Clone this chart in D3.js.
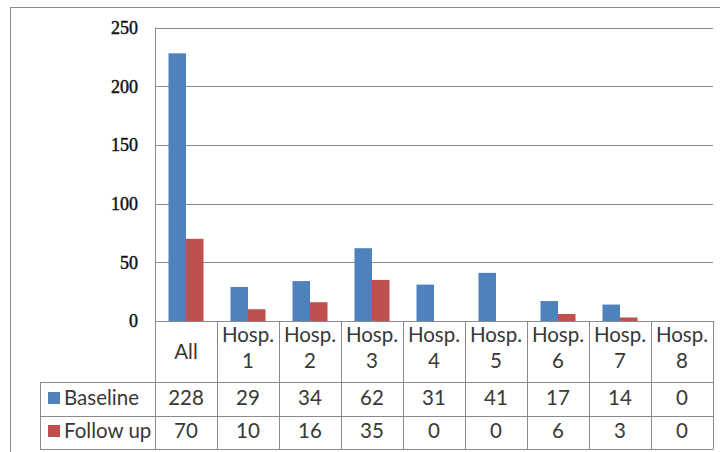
<!DOCTYPE html>
<html>
<head>
<meta charset="utf-8">
<script src="https://cdn.jsdelivr.net/npm/d3@7"></script>
<style>
  body { margin: 0; background: #fff; }
  svg { display: block; }
</style>
</head>
<body>
<div id="chart"></div>
<script>
// data
var categories = ["All", "Hosp. 1", "Hosp. 2", "Hosp. 3", "Hosp. 4", "Hosp. 5", "Hosp. 6", "Hosp. 7", "Hosp. 8"];
var seriesNames = ["Baseline", "Follow up"];
var baseline = [228, 29, 34, 62, 31, 41, 17, 14, 0];
var followUp = [70, 10, 16, 35, 0, 0, 6, 3, 0];
var yTicks = [0, 50, 100, 150, 200, 250];
var colors = ["#4f81bd", "#c0504d"];

var W = 720, H = 452;
// plot area
var plotLeft = 155, plotRight = 713, plotTop = 27.5, plotBottom = 321;
// table rows
var catRowBottom = 382, row1Bottom = 416, row2Bottom = 449, legendLeft = 40;

var rows = [baseline, followUp];
var data = categories.map(function(c, i) {
  return { cat: c, values: seriesNames.map(function(s, j) { return { key: s, value: rows[j][i] }; }) };
});

var svg = d3.select("#chart").append("svg")
  .attr("width", W)
  .attr("height", H);

// outer chart border
svg.append("rect")
  .attr("x", 10.5).attr("y", 7.5)
  .attr("width", 760).attr("height", 500)
  .attr("fill", "none")
  .attr("stroke", "#8e8e8e")
  .attr("stroke-width", 1);

var x = d3.scaleBand()
  .domain(categories)
  .range([plotLeft, plotRight])
  .paddingInner(0)
  .paddingOuter(0);

var xInner = d3.scaleBand()
  .domain(seriesNames)
  .range([0, x.bandwidth()])
  .paddingInner(0)
  .paddingOuter(0.77);

var y = d3.scaleLinear()
  .domain([0, 250])
  .range([plotBottom, plotTop]);

// gridlines
svg.append("g")
  .selectAll("line")
  .data(yTicks.filter(function(d) { return d > 0; }))
  .enter()
  .append("line")
    .attr("x1", plotLeft).attr("x2", plotRight)
    .attr("y1", function(d) { return Math.round(y(d)) + 0.5; })
    .attr("y2", function(d) { return Math.round(y(d)) + 0.5; })
    .attr("stroke", "#8a8a8a");

// y axis labels
svg.append("g")
  .selectAll("text")
  .data(yTicks)
  .enter()
  .append("text")
    .attr("x", 138)
    .attr("y", function(d) { return y(d); })
    .attr("dy", "0.35em")
    .attr("text-anchor", "end")
    .style("font-family", "'Liberation Serif', serif")
    .style("font-size", "18px")
    .style("fill", "#111")
    .style("stroke", "#111")
    .style("stroke-width", 0.45)
    .text(function(d) { return d; });

// bars
svg.append("g")
  .selectAll("g")
  .data(data)
  .enter()
  .append("g")
    .attr("transform", function(d) { return "translate(" + x(d.cat) + ",0)"; })
  .selectAll("rect")
  .data(function(d) { return d.values; })
  .enter()
  .append("rect")
    .attr("x", function(d) { return xInner(d.key); })
    .attr("y", function(d) { return y(d.value); })
    .attr("width", xInner.bandwidth())
    .attr("height", function(d) { return plotBottom - y(d.value); })
    .attr("fill", function(d, i) { return colors[i]; });

// data table lines
var lineColor = "#8a8a8a";
var grid = svg.append("g").attr("stroke", lineColor).attr("stroke-width", 1);
var yb = Math.round(plotBottom) + 0.5;
grid.append("line").attr("x1", plotLeft).attr("x2", plotRight).attr("y1", yb).attr("y2", yb);
[catRowBottom, row1Bottom, row2Bottom].forEach(function(r) {
  grid.append("line")
    .attr("x1", legendLeft).attr("x2", plotRight)
    .attr("y1", r + 0.5).attr("y2", r + 0.5);
});
// value axis line
grid.append("line")
  .attr("x1", plotLeft + 0.5).attr("x2", plotLeft + 0.5)
  .attr("y1", plotTop).attr("y2", row2Bottom + 0.5);
grid.append("line")
  .attr("x1", legendLeft + 0.5).attr("x2", legendLeft + 0.5)
  .attr("y1", catRowBottom).attr("y2", row2Bottom + 0.5);
grid.selectAll(".sep")
  .data(categories.slice(1).concat(["__end"]))
  .enter()
  .append("line")
    .attr("class", "sep")
    .attr("x1", function(d) { var v = d === "__end" ? plotRight : x(d); return Math.round(v) + 0.5; })
    .attr("x2", function(d) { var v = d === "__end" ? plotRight : x(d); return Math.round(v) + 0.5; })
    .attr("y1", plotBottom)
    .attr("y2", row2Bottom + 0.5);

var tableFont = "Lato, 'Open Sans', sans-serif";
var tableSize = "20.5px";
var textColor = "#383838";

// category labels
var catLabels = svg.append("g")
  .selectAll("text")
  .data(categories)
  .enter()
  .append("text")
    .attr("text-anchor", "middle")
    .style("font-family", tableFont)
    .style("font-size", tableSize)
    .style("fill", textColor);

catLabels.each(function(d) {
  var parts = d.split(" ");
  var cx = x(d) + x.bandwidth() / 2;
  var t = d3.select(this);
  if (parts.length === 1) {
    t.append("tspan").attr("x", cx).attr("y", 359).text(parts[0]);
  } else {
    t.append("tspan").attr("x", cx).attr("y", 341.5).text(parts[0]);
    t.append("tspan").attr("x", cx).attr("y", 368).text(parts[1]);
  }
});

// value rows
var rowBase = [405, 438];
rows.forEach(function(vals, j) {
  svg.append("g")
    .selectAll("text")
    .data(vals)
    .enter()
    .append("text")
      .attr("x", function(d, i) { return x(categories[i]) + x.bandwidth() / 2; })
      .attr("y", rowBase[j])
      .attr("text-anchor", "middle")
      .style("font-family", tableFont)
      .style("font-size", tableSize)
      .style("fill", textColor)
      .text(function(d) { return d; });

  // legend key + name
  svg.append("rect")
    .attr("x", 48).attr("y", rowBase[j] - 13)
    .attr("width", 12).attr("height", 12)
    .attr("fill", colors[j]);
  svg.append("text")
    .attr("x", 64)
    .attr("y", rowBase[j])
    .style("font-family", tableFont)
    .style("font-size", tableSize)
    .style("fill", textColor)
    .text(seriesNames[j]);
});
</script>
</body>
</html>
